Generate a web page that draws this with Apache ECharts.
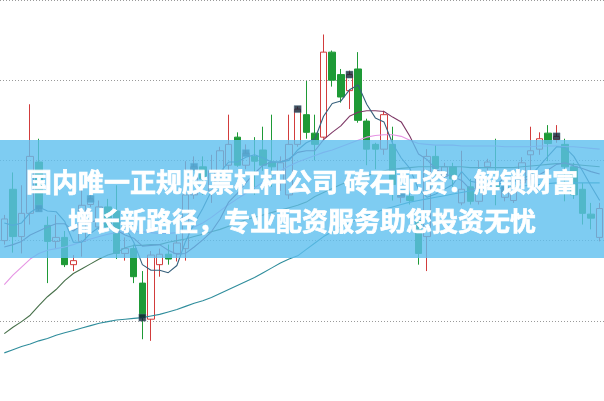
<!DOCTYPE html>
<html>
<head>
<meta charset="utf-8">
<script src="https://cdn.jsdelivr.net/npm/echarts@6/dist/echarts.min.js"></script>
<style>
html,body{margin:0;padding:0;background:#fff;}
#c{width:604px;height:401px;}
</style>
</head>
<body>
<div id="c"></div>
<script>
// candles: [open, close, low, high]
const candles = [
[20.0,22.7,19.5,23.2],[26.4,20.5,18.5,28.5],[20.5,23.4,18.4,26.9],[23.4,30.5,22.0,37.0],[29.8,24.0,23.7,32.7],
[21.9,19.9,14.7,23.0],[19.9,20.4,19.0,23.2],[20.4,17.0,16.7,21.2],[17.0,17.5,16.2,18.2],[19.9,24.4,18.0,26.4],
[24.5,25.2,24.2,26.5],[21.7,24.2,21.4,25.0],[24.2,21.7,21.2,25.2],[23.7,18.4,17.7,26.9],[18.4,19.0,17.5,20.4],
[19.0,15.5,14.7,19.5],[14.7,10.4,7.7,16.2],[10.2,18.2,7.5,18.7],[17.0,18.3,15.5,19.0],[18.3,17.7,17.0,19.5],
[18.4,19.7,17.4,20.7],[19.0,25.7,17.5,29.9],[25.7,29.2,25.2,30.5],[29.2,27.7,25.7,30.5],[26.2,28.7,24.7,30.7],
[28.2,31.2,27.2,31.7],[29.4,32.0,28.7,35.7],[32.9,29.4,29.2,33.5],[29.4,30.9,28.9,32.0],[30.5,29.9,25.7,32.9],
[31.3,29.4,28.7,34.2],[29.8,29.2,26.7,35.7],[27.2,29.7,26.2,30.5],[25.7,32.0,25.2,35.7],[32.0,36.4,31.7,36.7],
[35.7,33.5,32.7,39.9],[33.4,32.0,30.0,35.7],[32.9,43.5,32.7,45.7],[43.5,40.0,39.2,43.7],[40.7,37.9,37.2,41.4],
[38.7,40.7,36.4,41.2],[41.4,35.0,34.7,43.5],[34.9,31.4,29.4,35.2],[32.0,31.4,28.9,32.2],[31.4,35.7,30.7,36.2],
[32.0,27.0,25.0,34.2],[25.4,25.9,24.7,26.2],[25.5,25.0,24.5,25.9],[22.5,18.4,17.0,23.2],[20.5,30.5,16.2,31.4],
[30.5,29.0,28.2,31.9],[28.0,29.2,27.2,29.7],[29.2,27.7,26.7,29.7],[24.7,26.4,24.4,31.2],[26.7,24.9,24.5,27.7],
[24.9,27.7,24.5,30.0],[29.2,29.8,28.7,30.2],[27.0,26.5,24.4,32.7],[25.4,26.4,24.9,26.7],[25.0,26.7,24.7,27.7],
[27.2,29.7,26.7,30.4],[30.7,31.2,27.5,34.2],[31.4,32.7,30.7,33.5],[33.4,32.1,29.9,34.4],[32.6,33.0,32.2,34.4],
[32.0,29.2,24.9,32.7],[29.2,25.7,25.2,29.7],[26.4,23.4,22.0,27.2],[23.3,22.8,21.4,24.7],[20.4,24.0,19.9,24.7]
];
const categories = candles.map((_, i) => 'D' + (i + 1));

const ma5 = [22.2,21.9,22.2,23.5,24.2,23.7,23.6,22.4,19.8,19.8,20.9,21.7,22.6,22.8,21.7,19.8,17.0,16.3,16.3,16.0,
16.9,19.9,22.1,24.0,26.2,28.5,29.8,29.8,30.4,30.7,30.3,29.8,29.8,30.0,31.3,32.2,32.7,35.5,37.1,37.4,
38.8,39.4,37.0,35.3,34.8,32.1,30.3,29.0,26.4,25.4,25.8,26.4,27.0,28.6,27.4,27.2,27.3,27.1,27.1,27.4,
27.8,28.1,29.3,30.5,31.7,31.6,30.5,28.7,26.8,25.0];
const ma10 = [19.2,19.5,19.9,20.7,21.2,21.7,22.1,22.1,21.2,22.0,22.3,22.6,22.5,21.3,20.7,20.3,19.3,19.4,19.5,18.8,
18.3,18.4,19.2,20.1,21.1,22.7,24.8,25.9,27.2,28.4,29.4,29.8,29.8,30.2,31.0,31.2,31.2,32.6,33.5,34.3,
35.5,36.0,36.2,36.2,36.1,35.4,34.8,33.0,30.8,30.1,28.9,28.3,28.0,27.5,26.4,26.5,26.8,27.0,27.8,27.4,
27.5,27.7,28.2,28.8,29.5,29.7,29.3,29.0,28.6,28.3];
const ma20 = [14.5,15.7,16.7,17.7,18.4,18.8,19.0,19.2,19.5,19.9,20.2,20.5,20.8,21.0,21.1,21.1,21.1,21.0,20.9,20.9,
21.0,21.2,21.7,22.2,22.9,23.7,24.5,25.2,25.9,26.6,27.3,28.0,28.7,29.3,29.8,30.2,30.6,31.0,31.3,31.7,
32.1,32.5,32.9,33.1,33.2,33.2,33.0,32.5,32.1,32.0,31.9,31.9,31.9,31.8,31.8,31.8,31.8,31.8,31.7,31.7,
31.7,31.7,31.8,31.8,31.8,31.7,31.7,31.6,31.5,31.4];
const ma30 = [8.4,9.2,9.9,10.7,11.9,13.0,13.9,15.0,15.9,16.5,17.1,17.7,18.2,18.5,19.1,19.4,19.4,19.5,19.5,19.8,
20.0,20.2,20.5,20.8,21.1,21.4,21.8,22.2,22.6,22.9,23.2,23.5,23.8,24.1,24.4,24.8,25.5,26.0,26.5,27.0,
27.4,27.8,28.1,28.4,28.7,28.9,29.0,29.1,29.2,29.2,29.2,29.2,29.2,29.2,29.1,29.1,29.1,29.1,29.1,29.1,
29.2,29.3,29.4,29.5,29.6,29.6,29.5,29.4,29.3,29.2];
const ma60 = [6.0,6.4,6.8,7.1,7.5,7.8,8.2,8.5,8.8,9.1,9.4,9.7,9.9,10.1,10.2,10.3,10.4,10.6,10.8,11.1,
11.4,11.8,12.2,12.5,12.9,13.4,13.9,14.4,14.9,15.4,16.0,16.6,17.2,17.7,18.1,18.9,19.7,20.5,21.1,21.7,
22.2,22.7,23.1,23.5,23.9,24.2,24.5,24.8,25.0,25.2,25.4,25.6,25.8,26.0,26.2,26.3,26.4,26.5,26.6,26.7,
26.8,26.9,27.0,27.1,27.2,27.2,27.2,27.2,27.2,27.2];
// signal markers: [category index, value]
const markers = [[4,24.0],[10,25.2],[16,10.4],[22,29.2],[28,30.9],[34,36.4],[40,40.7],[46,25.9],[58,26.4],[64,33.0]];
const yTicks = [0, 50, 10];
const bannerLines = ['国内唯一正规股票杠杆公司 砖石配资：解锁财富', '增长新路径，专业配资服务助您投资无忧'];

const chart = echarts.init(document.getElementById('c'), null, {renderer: 'canvas'});
const lineS = (name, data, color) => ({
  name, type: 'line', data, symbol: 'none', silent: true,
  lineStyle: {width: 1.1, color}, z: 3
});
chart.setOption({
  animation: false,
  backgroundColor: '#ffffff',
  grid: {left: -2.4, right: -3.3, top: -43, bottom: -56, containLabel: false},
  xAxis: {type: 'category', data: categories, boundaryGap: true, show: false},
  yAxis: {
    type: 'value', min: yTicks[0], max: yTicks[1], interval: yTicks[2],
    axisLabel: {show: false}, axisLine: {show: false}, axisTick: {show: false},
    splitLine: {show: true, lineStyle: {color: '#9a9a9a', width: 1, type: [1, 2]}}
  },
  series: [
    {
      type: 'candlestick', data: candles, barWidth: 7, z: 2,
      itemStyle: {
        color: 'rgba(255,255,255,0)', color0: '#1e9a36',
        borderColor: '#d23c3c', borderColor0: '#1e9a36', borderWidth: 1
      }
    },
    lineS('MA60', ma60, '#2f8d9c'),
    lineS('MA30', ma30, '#47704a'),
    lineS('MA20', ma20, '#e694e4'),
    lineS('MA10', ma10, '#7e3866'),
    lineS('MA5', ma5, '#36607c'),
    {
      type: 'scatter', data: markers, symbol: 'rect', symbolSize: 7, z: 4, silent: true,
      itemStyle: {color: '#0f2233', borderColor: '#5a7a90', borderWidth: 0.5}
    }
  ],
  graphic: [
    {type: 'rect', left: 0, top: 140, z: 100, silent: true,
     shape: {width: 604, height: 118}, style: {fill: 'rgba(94,191,239,0.8)'}},
    {type: 'text', x: 302, y: 182, z: 101, silent: true,
     style: {text: bannerLines[0], fill: '#ffffff', font: 'bold 26px "Noto Sans CJK SC"',
             stroke: '#ffffff', lineWidth: 0.7,
             textAlign: 'center', textVerticalAlign: 'middle'}},
    {type: 'text', x: 302, y: 221, z: 101, silent: true,
     style: {text: bannerLines[1], fill: '#ffffff', font: 'bold 26px "Noto Sans CJK SC"',
             stroke: '#ffffff', lineWidth: 0.7,
             textAlign: 'center', textVerticalAlign: 'middle'}}
  ]
});
</script>
</body>
</html>
